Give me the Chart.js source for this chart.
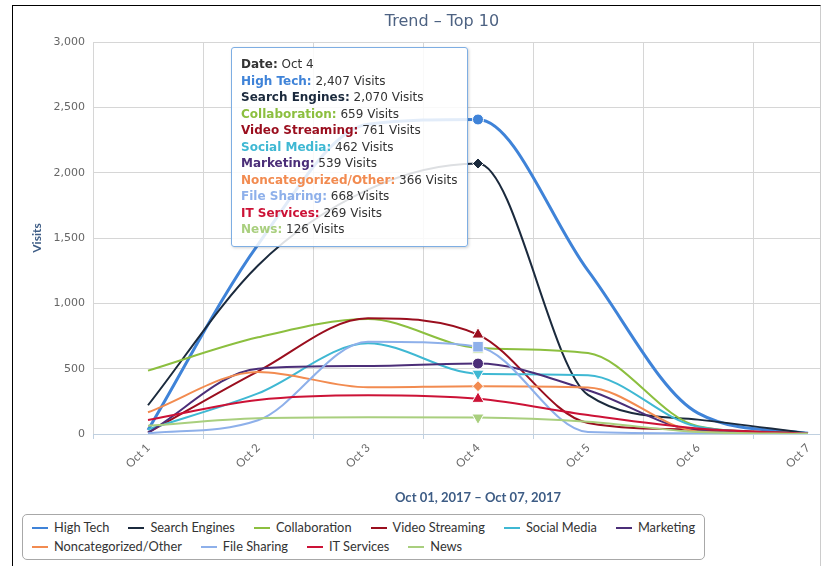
<!DOCTYPE html>
<html>
<head>
<meta charset="utf-8">
<title>Trend - Top 10</title>
<script src="https://cdn.jsdelivr.net/npm/chart.js@4.4.1/dist/chart.umd.min.js"></script>
<style>
  html, body { margin: 0; padding: 0; background: #fff; }
  body { width: 824px; height: 566px; overflow: hidden; position: relative; }
  /* outer frame, the chart is wider than the frame and gets cut on the right */
  #frame {
    position: absolute; left: 12px; top: 5px; width: 807px; height: 600px;
    border-left: 1px solid #000; border-top: 1px solid #000; border-right: 1px solid #ccc;
    overflow: hidden;
  }
  #trend { position: absolute; left: 0; top: 0; }
  #legend {
    position: absolute; left: 9px; top: 508px; width: 683px; box-sizing: border-box;
    border: 1px solid #a8a8a8; border-radius: 5px; padding: 3px 2px 3px 9px;
    display: flex; flex-wrap: wrap; column-gap: 19px;
    font: 12.8px Lato, sans-serif; color: #333; line-height: 19px;
  }
  #legend .item { display: flex; align-items: center; white-space: nowrap; }
  #legend i { display: inline-block; width: 16px; height: 2px; margin-right: 6px; }
  #tip {
    position: absolute; display: none; background: rgba(255,255,255,0.85);
    border: 1px solid #7eaee3; border-radius: 3px; box-shadow: 1px 1px 3px rgba(0,0,0,0.18);
    padding: 8px 9px; font: 12px 'DejaVu Sans', sans-serif; line-height: 16.5px;
    color: #333; white-space: nowrap;
  }
</style>
</head>
<body>
<div id="frame">
  <canvas id="trend" width="860" height="505"></canvas>
  <div id="legend"></div>
  <div id="tip"></div>
</div>
<script>
// visits per day, Oct 1 - Oct 7 2017
const days = ['Oct 1', 'Oct 2', 'Oct 3', 'Oct 4', 'Oct 5', 'Oct 6', 'Oct 7'];

const highTech       = [30, 1450, 2370, 2407, 1250, 160, 5];
const searchEngines  = [220, 1290, 1870, 2070, 300, 110, 5];
const collaboration  = [485, 740, 880, 659, 620, 60, 4];
const videoStreaming = [10, 480, 885, 761, 85, 35, 3];
const socialMedia    = [35, 311, 694, 462, 450, 55, 3];
const marketing      = [10, 500, 520, 539, 335, 25, 2];
const noncategorized = [166, 475, 357, 366, 356, 20, 2];
const fileSharing    = [5, 105, 706, 668, 15, 5, 1];
const itServices     = [107, 260, 296, 269, 145, 43, 2];
const news           = [64, 120, 128, 126, 94, 15, 1];

const seriesNames = ['High Tech', 'Search Engines', 'Collaboration', 'Video Streaming', 'Social Media',
                     'Marketing', 'Noncategorized/Other', 'File Sharing', 'IT Services', 'News'];
const seriesValues = [highTech, searchEngines, collaboration, videoStreaming, socialMedia,
                      marketing, noncategorized, fileSharing, itServices, news];
const seriesColors = ['#3f83d8', '#1b2a3d', '#8cbf3f', '#9a0e1e', '#3fb8d3',
                      '#4b2e78', '#f28b50', '#8eb0ea', '#cc1236', '#a9cf7e'];

const yTicks = [0, 500, 1000, 1500, 2000, 2500, 3000];

// hovered day and the marker used by each series
const activeDay = 3;
const markerStyles = ['circle', 'rectRot', 'rect', 'triangle', 'triangle',
                      'circle', 'rectRot', 'rect', 'triangle', 'triangle'];
const markerRotation = [0, 0, 0, 0, 180, 0, 0, 0, 0, 180];
const markerSize = { circle: 5.5, rectRot: 5.5, rect: 7.5, triangle: 7 };

const fmt = v => v.toLocaleString('en-US');

function drawTip(context) {
    const { chart, tooltip } = context;
    const tip = document.getElementById('tip');
    if (tooltip.opacity === 0 || !tooltip.dataPoints) {
        tip.style.display = 'none';
        return;
    }
    const points = tooltip.dataPoints.slice().sort((a, b) => a.datasetIndex - b.datasetIndex);
    let html = '<b>Date:</b> ' + points[0].label;
    points.forEach(p => {
        html += '<br><b style="color:' + p.dataset.borderColor + '">' + p.dataset.label + ':</b> '
              + fmt(p.raw) + ' Visits';
    });
    tip.innerHTML = html;
    tip.style.display = 'block';
    tip.style.left = (tooltip.caretX - 10 - tip.offsetWidth) + 'px';
    tip.style.top = (chart.chartArea.top + 5) + 'px';
}

const htmlLegend = {
    id: 'htmlLegend',
    afterUpdate(chart) {
        const box = document.getElementById('legend');
        box.innerHTML = '';
        chart.data.datasets.forEach(ds => {
            const item = document.createElement('span');
            item.className = 'item';
            const mark = document.createElement('i');
            mark.style.background = ds.borderColor;
            item.appendChild(mark);
            item.appendChild(document.createTextNode(ds.label));
            box.appendChild(item);
        });
    }
};

Chart.defaults.font.family = 'Lato, sans-serif';

const ctx = document.getElementById('trend').getContext('2d');

const trendChart = new Chart(ctx, {
    type: 'line',
    data: {
        labels: days,
        datasets: seriesNames.map((name, i) => ({
            label: name,
            data: seriesValues[i],
            borderColor: seriesColors[i],
            backgroundColor: seriesColors[i],
            borderWidth: i === 0 ? 3 : 2,
            cubicInterpolationMode: 'monotone',
            order: -i,
            pointStyle: markerStyles[i],
            pointRotation: markerRotation[i],
            pointRadius: c => c.dataIndex === activeDay ? markerSize[markerStyles[i]] : 0,
            pointHoverRadius: c => c.dataIndex === activeDay ? markerSize[markerStyles[i]] : 0,
            pointBorderColor: '#fff',
            pointBorderWidth: 1
        }))
    },
    options: {
        responsive: false,
        animation: false,
        events: [],
        layout: { padding: { left: 8, right: 10, top: 0, bottom: 0 } },
        plugins: {
            legend: { display: false },
            title: {
                display: true,
                text: 'Trend \u2013 Top 10',
                color: '#4d6282',
                font: { family: "'DejaVu Sans', sans-serif", size: 16, weight: 'normal' },
                padding: { top: 6, bottom: 10.8 }
            },
            tooltip: {
                enabled: false,
                mode: 'index',
                intersect: false,
                external: drawTip
            }
        },
        scales: {
            x: {
                offset: true,
                grid: { offset: true, color: '#d6d6d6', tickColor: '#c0d0e0', tickLength: 5 },
                border: { color: '#c0d0e0' },
                ticks: {
                    minRotation: 45, maxRotation: 45,
                    color: '#666', font: { size: 11.5 }, padding: 2
                },
                title: {
                    display: true,
                    text: 'Oct 01, 2017 \u2013 Oct 07, 2017',
                    color: '#3d5c85',
                    font: { size: 13, weight: 'bold' },
                    padding: { top: 0, bottom: 5 }
                },
                afterFit: scale => { scale.height = 77; }
            },
            y: {
                min: 0,
                max: 3000,
                afterBuildTicks: scale => { scale.ticks = yTicks.map(v => ({ value: v })); },
                grid: { color: '#d6d6d6', drawTicks: false },
                border: { display: false },
                ticks: {
                    color: '#666',
                    padding: 8,
                    font: { family: "'DejaVu Sans', sans-serif", size: 11 },
                    callback: v => fmt(v)
                },
                title: {
                    display: true,
                    text: 'Visits',
                    color: '#3d5c85',
                    font: { size: 12, weight: 'bold' },
                    padding: { top: 9, bottom: 0 }
                },
                afterFit: scale => { scale.width = 72; }
            }
        }
    },
    plugins: [htmlLegend]
});

// show the Oct 4 tooltip like in the screenshot
trendChart.tooltip.setActiveElements(
    seriesNames.map((n, i) => ({ datasetIndex: i, index: activeDay })),
    { x: 0, y: 0 }
);
</script>
</body>
</html>
